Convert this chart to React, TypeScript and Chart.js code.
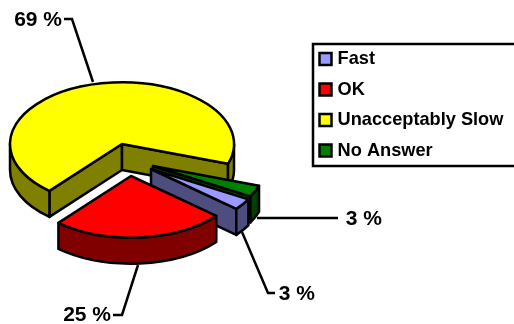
import { useEffect, useRef } from "react";
import { Chart, registerables } from "chart.js";

Chart.register(...registerables);

const categories = ["Fast", "OK", "Unacceptably Slow", "No Answer"];
const shares = [3, 25, 69, 3];
const topColors = ["#9999FF", "#FF0000", "#FFFF00", "#008000"];
const wallColors = ["#4D4D80", "#800000", "#808000", "#004000"];

// Pull-out of every slice on screen, in pixels, and the tilt of the pie.
const explode = [[29, 25], [9, 32], [0, 0], [31, 22]];
const pieCentre = [122, 144];
const tilt = 0.55;
const depth = 26;
const strokeWidth = 2.5;

// Elbow leaders: text anchor followed by the points of each line.
const leaders = [
  { text: [315, 294], align: "right", pts: [[242, 232], [268, 293], [275, 293]] },
  { text: [111, 315], align: "right", pts: [[138, 265], [122, 315], [113, 315]] },
  { text: [62, 20], align: "right", pts: [[93, 82], [72, 19], [64, 19]] },
  { text: [382, 219], align: "right", pts: [[257, 218], [338, 218]] },
];

const FONT = '"Liberation Sans", Arial, sans-serif';

const pie3d = {
  id: "pie3d",
  afterLayout(chart: any) {
    const legend = chart.legend;
    legend.left = 310.2;
    legend.right = 514;
    legend.top = 37.6;
    legend.bottom = 200;
    legend.width = 203.8;
    legend.height = 162.4;
  },
  beforeDatasetsDraw(chart: any) {
    const { ctx } = chart;
    const arcs: any[] = chart.getDatasetMeta(0).data;
    const order = arcs
      .map((_, i) => i)
      .sort((a, b) => {
        const mid = (k: number) => (arcs[k].startAngle + arcs[k].endAngle) / 2;
        return Math.sin(mid(a)) - Math.sin(mid(b));
      });

    ctx.save();
    ctx.lineWidth = strokeWidth;
    ctx.strokeStyle = "#000";
    ctx.lineJoin = "round";

    for (const i of order) {
      const { startAngle: a0, endAngle: a1, outerRadius: r } = arcs[i];
      const cx = pieCentre[0] + explode[i][0];
      const cy = pieCentre[1] + explode[i][1];
      const px = (a: number) => cx + r * Math.cos(a);
      const py = (a: number) => cy + r * tilt * Math.sin(a);
      const paint = (fill: string) => {
        ctx.fillStyle = fill;
        ctx.fill();
        ctx.stroke();
      };

      // Flat cut walls, only where they face the viewer.
      const cutWall = (a: number) => {
        ctx.beginPath();
        ctx.moveTo(cx, cy);
        ctx.lineTo(px(a), py(a));
        ctx.lineTo(px(a), py(a) + depth);
        ctx.lineTo(cx, cy + depth);
        ctx.closePath();
        paint(wallColors[i]);
      };
      if (Math.cos(a0) < 0) cutWall(a0);
      if (Math.cos(a1) > 0) cutWall(a1);

      // Rim wall along each stretch of the arc on the near half.
      for (const k of [0, 2]) {
        const from = Math.max(a0, k * Math.PI);
        const to = Math.min(a1, (k + 1) * Math.PI);
        if (to <= from) continue;
        ctx.beginPath();
        ctx.ellipse(cx, cy, r, r * tilt, 0, from, to);
        ctx.lineTo(px(to), py(to) + depth);
        ctx.ellipse(cx, cy + depth, r, r * tilt, 0, to, from, true);
        ctx.closePath();
        paint(wallColors[i]);
      }

      // Top face.
      ctx.beginPath();
      ctx.moveTo(cx, cy);
      ctx.ellipse(cx, cy, r, r * tilt, 0, a0, a1);
      ctx.closePath();
      paint(topColors[i]);
    }
    ctx.restore();
    return false;
  },
  afterDraw(chart: any) {
    const { ctx } = chart;
    const values: number[] = chart.data.datasets[0].data;
    ctx.save();
    ctx.strokeStyle = "#000";
    ctx.lineWidth = strokeWidth;
    ctx.strokeRect(313, 44, 210, 122);
    ctx.fillStyle = "#000";
    ctx.font = `bold 21px ${FONT}`;
    ctx.textBaseline = "middle";
    leaders.forEach((l, i) => {
      ctx.beginPath();
      l.pts.forEach(([x, y], j) => (j ? ctx.lineTo(x, y) : ctx.moveTo(x, y)));
      ctx.stroke();
      ctx.textAlign = l.align;
      ctx.fillText(`${values[i]} %`, l.text[0], l.text[1]);
    });
    ctx.restore();
  },
};

export default function App() {
  const ref = useRef<HTMLCanvasElement>(null);
  useEffect(() => {
    document.body.style.margin = "0";
    const chart = new Chart(ref.current!, {
      type: "pie",
      data: {
        labels: categories,
        datasets: [
          {
            data: shares,
            backgroundColor: topColors,
            borderColor: "#000",
            borderWidth: strokeWidth,
          },
        ],
      },
      options: {
        responsive: false,
        animation: false,
        rotation: 119.6,
        radius: 112,
        layout: { padding: 0 },
        plugins: {
          tooltip: { enabled: false },
          legend: {
            position: "right",
            align: "start",
            labels: {
              usePointStyle: true,
              pointStyle: "rect",
              boxHeight: 12,
              boxWidth: 6,
              padding: 12.3,
              color: "#000",
              font: { family: FONT, size: 18.2, weight: "bold" },
            },
          },
        },
      },
      plugins: [pie3d],
    } as any);
    return () => chart.destroy();
  }, []);
  return (
    <div style={{ width: 514, height: 324 }}>
      <canvas ref={ref} width={514} height={324} style={{ display: "block" }} />
    </div>
  );
}
